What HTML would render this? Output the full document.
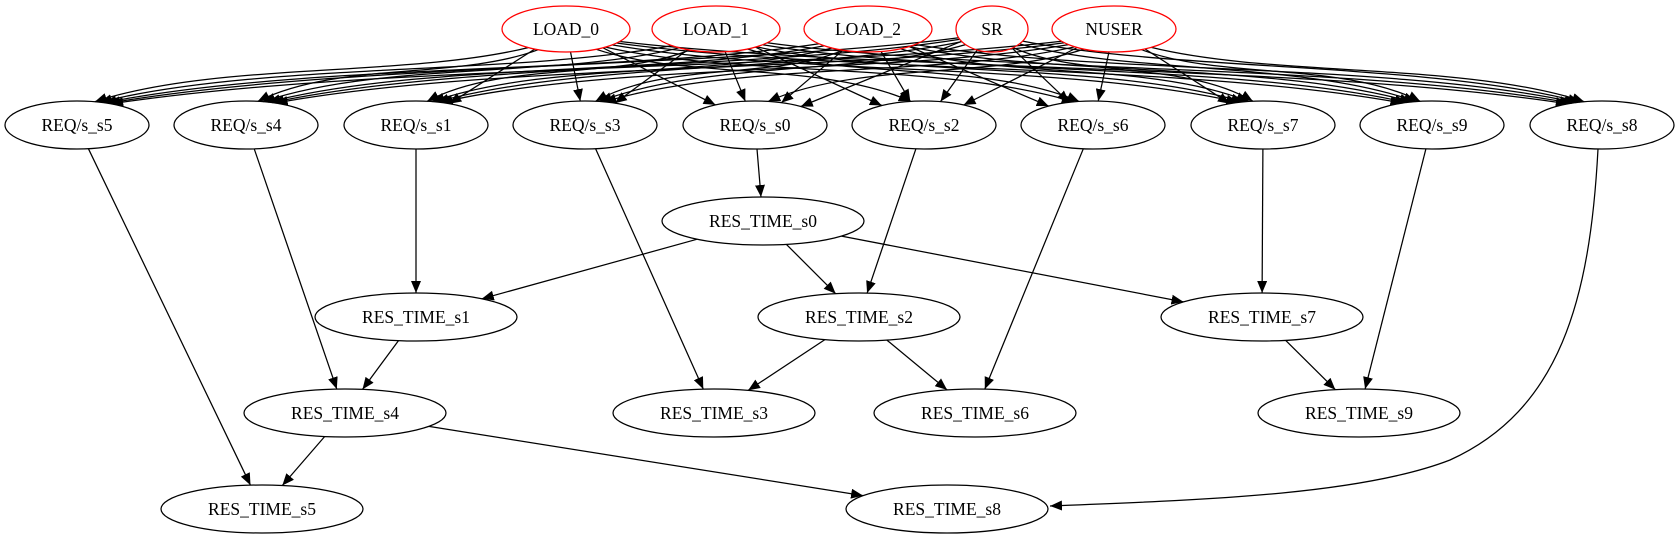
<!DOCTYPE html>
<html><head><meta charset="utf-8"><style>
html,body{margin:0;padding:0;background:#fff;}
svg{display:block;}
text{font-family:"Liberation Serif",serif;font-size:17.5px;text-anchor:middle;dominant-baseline:central;fill:#000;}
</style></head><body>
<svg id="g" width="1680" height="539" viewBox="0 0 1680 539" xmlns="http://www.w3.org/2000/svg">
<defs><marker id="a" markerWidth="12" markerHeight="10" refX="12" refY="5" orient="auto" markerUnits="userSpaceOnUse"><path d="M0,0 L12,5 L0,10 z" fill="#000"/></marker></defs>
<g id="edges" fill="none" stroke="#000" stroke-width="1.25"></g>
<g id="nodes" fill="none" stroke-width="1.25">
<ellipse cx="566" cy="29" rx="64" ry="23" stroke="red"/><text x="566" y="29">LOAD_0</text>
<ellipse cx="716" cy="29" rx="64" ry="23" stroke="red"/><text x="716" y="29">LOAD_1</text>
<ellipse cx="868" cy="29" rx="64" ry="23" stroke="red"/><text x="868" y="29">LOAD_2</text>
<ellipse cx="992" cy="29" rx="36" ry="23" stroke="red"/><text x="992" y="29">SR</text>
<ellipse cx="1114" cy="29" rx="62" ry="23" stroke="red"/><text x="1114" y="29">NUSER</text>
<ellipse cx="77" cy="125" rx="72" ry="24" stroke="#000"/><text x="77" y="125">REQ/s_s5</text>
<ellipse cx="246" cy="125" rx="72" ry="24" stroke="#000"/><text x="246" y="125">REQ/s_s4</text>
<ellipse cx="416" cy="125" rx="72" ry="24" stroke="#000"/><text x="416" y="125">REQ/s_s1</text>
<ellipse cx="585" cy="125" rx="72" ry="24" stroke="#000"/><text x="585" y="125">REQ/s_s3</text>
<ellipse cx="755" cy="125" rx="72" ry="24" stroke="#000"/><text x="755" y="125">REQ/s_s0</text>
<ellipse cx="924" cy="125" rx="72" ry="24" stroke="#000"/><text x="924" y="125">REQ/s_s2</text>
<ellipse cx="1093" cy="125" rx="72" ry="24" stroke="#000"/><text x="1093" y="125">REQ/s_s6</text>
<ellipse cx="1263" cy="125" rx="72" ry="24" stroke="#000"/><text x="1263" y="125">REQ/s_s7</text>
<ellipse cx="1432" cy="125" rx="72" ry="24" stroke="#000"/><text x="1432" y="125">REQ/s_s9</text>
<ellipse cx="1602" cy="125" rx="72" ry="24" stroke="#000"/><text x="1602" y="125">REQ/s_s8</text>
<ellipse cx="763" cy="221" rx="101" ry="24" stroke="#000"/><text x="763" y="221">RES_TIME_s0</text>
<ellipse cx="416" cy="317" rx="101" ry="24" stroke="#000"/><text x="416" y="317">RES_TIME_s1</text>
<ellipse cx="859" cy="317" rx="101" ry="24" stroke="#000"/><text x="859" y="317">RES_TIME_s2</text>
<ellipse cx="1262" cy="317" rx="101" ry="24" stroke="#000"/><text x="1262" y="317">RES_TIME_s7</text>
<ellipse cx="345" cy="413" rx="101" ry="24" stroke="#000"/><text x="345" y="413">RES_TIME_s4</text>
<ellipse cx="714" cy="413" rx="101" ry="24" stroke="#000"/><text x="714" y="413">RES_TIME_s3</text>
<ellipse cx="975" cy="413" rx="101" ry="24" stroke="#000"/><text x="975" y="413">RES_TIME_s6</text>
<ellipse cx="1359" cy="413" rx="101" ry="24" stroke="#000"/><text x="1359" y="413">RES_TIME_s9</text>
<ellipse cx="262" cy="509" rx="101" ry="24" stroke="#000"/><text x="262" y="509">RES_TIME_s5</text>
<ellipse cx="947" cy="509" rx="101" ry="24" stroke="#000"/><text x="947" y="509">RES_TIME_s8</text>
</g>
<path d="M1598,149 C1590,300 1560,410 1450,460 C1360,495 1200,500 1050,506" fill="none" stroke="#000" stroke-width="1.25" marker-end="url(#a)"/>
</svg>
<script>
var N={L0:[566,29,64,23],L1:[716,29,64,23],L2:[868,29,64,23],SR:[992,29,36,23],NU:[1114,29,62,23],
r5:[77,125,72,24],r4:[246,125,72,24],r1:[416,125,72,24],r3:[585,125,72,24],r0:[755,125,72,24],r2:[924,125,72,24],r6:[1093,125,72,24],r7:[1263,125,72,24],r9:[1432,125,72,24],r8:[1602,125,72,24],
t0:[763,221,101,24],t1:[416,317,101,24],t2:[859,317,101,24],t7:[1262,317,101,24],t4:[345,413,101,24],t3:[714,413,101,24],t6:[975,413,101,24],t9:[1359,413,101,24],t5:[262,509,101,24],t8:[947,509,101,24]};
function bp(n,dx,dy){var t=1/Math.sqrt((dx/n[2])*(dx/n[2])+(dy/n[3])*(dy/n[3]));return [n[0]+dx*t,n[1]+dy*t];}
var E=[];
['L0','L1','L2','SR','NU'].forEach(function(s){['r5','r4','r1','r3','r0','r2','r6','r7','r9','r8'].forEach(function(t){E.push([s,t,1]);});});
E.push(['r0','t0'],['r1','t1'],['r2','t2'],['r7','t7'],['r4','t4'],['r3','t3'],['r6','t6'],['r9','t9'],['r5','t5'],
['t0','t1'],['t0','t2'],['t0','t7'],['t1','t4'],['t2','t3'],['t2','t6'],['t7','t9'],['t4','t5'],['t4','t8']);
var g=document.getElementById('edges'),h='';
E.forEach(function(e){var a=N[e[0]],b=N[e[1]];var dx=b[0]-a[0],dy=b[1]-a[1];
var p=bp(a,dx,dy),q=bp(b,-dx,-dy);
if(e[2]&&Math.abs(dx)>250){
 var s=bp(a,dx*0.4,dy);var tt=bp(b,-dx*0.15,-dy);
 h+='<path d="M'+s[0].toFixed(1)+','+s[1].toFixed(1)+' C'+(s[0]+dx*0.25).toFixed(1)+','+(s[1]+30)+' '+(tt[0]-dx*0.25).toFixed(1)+','+(tt[1]-40)+' '+tt[0].toFixed(1)+','+tt[1].toFixed(1)+'" marker-end="url(#a)"/>';
}else{
 h+='<path d="M'+p[0].toFixed(1)+','+p[1].toFixed(1)+' L'+q[0].toFixed(1)+','+q[1].toFixed(1)+'" marker-end="url(#a)"/>';}
});
g.innerHTML=h;
</script>
</body></html>
